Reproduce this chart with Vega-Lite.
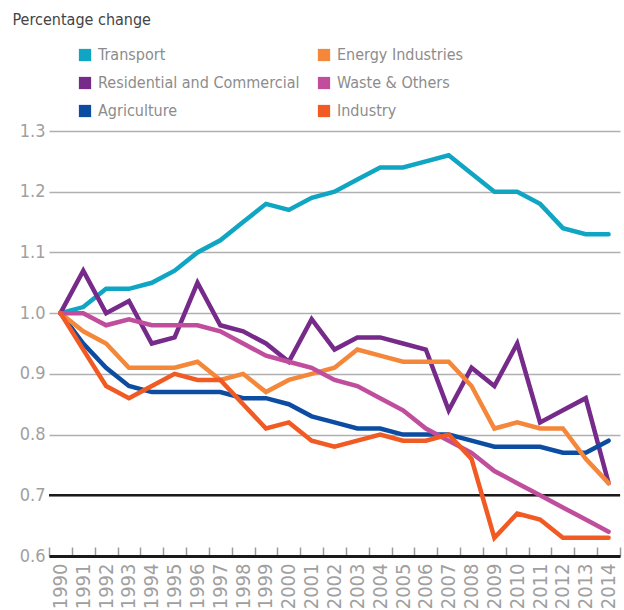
{
  "$schema": "https://vega.github.io/schema/vega-lite/v6.json",
  "width": 571,
  "height": 425,
  "autosize": "none",
  "padding": {"left": 49, "top": 131, "right": 4, "bottom": 54},
  "background": "white",
  "config": {
    "font": "DejaVu Sans Condensed, sans-serif",
    "view": {"stroke": null}
  },
  "data": {"values": [
    {"year":"1990","sector":"Transport","v":1.00},{"year":"1991","sector":"Transport","v":1.01},{"year":"1992","sector":"Transport","v":1.04},{"year":"1993","sector":"Transport","v":1.04},{"year":"1994","sector":"Transport","v":1.05},{"year":"1995","sector":"Transport","v":1.07},{"year":"1996","sector":"Transport","v":1.10},{"year":"1997","sector":"Transport","v":1.12},{"year":"1998","sector":"Transport","v":1.15},{"year":"1999","sector":"Transport","v":1.18},{"year":"2000","sector":"Transport","v":1.17},{"year":"2001","sector":"Transport","v":1.19},{"year":"2002","sector":"Transport","v":1.20},{"year":"2003","sector":"Transport","v":1.22},{"year":"2004","sector":"Transport","v":1.24},{"year":"2005","sector":"Transport","v":1.24},{"year":"2006","sector":"Transport","v":1.25},{"year":"2007","sector":"Transport","v":1.26},{"year":"2008","sector":"Transport","v":1.23},{"year":"2009","sector":"Transport","v":1.20},{"year":"2010","sector":"Transport","v":1.20},{"year":"2011","sector":"Transport","v":1.18},{"year":"2012","sector":"Transport","v":1.14},{"year":"2013","sector":"Transport","v":1.13},{"year":"2014","sector":"Transport","v":1.13},
    {"year":"1990","sector":"Residential and Commercial","v":1.00},{"year":"1991","sector":"Residential and Commercial","v":1.07},{"year":"1992","sector":"Residential and Commercial","v":1.00},{"year":"1993","sector":"Residential and Commercial","v":1.02},{"year":"1994","sector":"Residential and Commercial","v":0.95},{"year":"1995","sector":"Residential and Commercial","v":0.96},{"year":"1996","sector":"Residential and Commercial","v":1.05},{"year":"1997","sector":"Residential and Commercial","v":0.98},{"year":"1998","sector":"Residential and Commercial","v":0.97},{"year":"1999","sector":"Residential and Commercial","v":0.95},{"year":"2000","sector":"Residential and Commercial","v":0.92},{"year":"2001","sector":"Residential and Commercial","v":0.99},{"year":"2002","sector":"Residential and Commercial","v":0.94},{"year":"2003","sector":"Residential and Commercial","v":0.96},{"year":"2004","sector":"Residential and Commercial","v":0.96},{"year":"2005","sector":"Residential and Commercial","v":0.95},{"year":"2006","sector":"Residential and Commercial","v":0.94},{"year":"2007","sector":"Residential and Commercial","v":0.84},{"year":"2008","sector":"Residential and Commercial","v":0.91},{"year":"2009","sector":"Residential and Commercial","v":0.88},{"year":"2010","sector":"Residential and Commercial","v":0.95},{"year":"2011","sector":"Residential and Commercial","v":0.82},{"year":"2012","sector":"Residential and Commercial","v":0.84},{"year":"2013","sector":"Residential and Commercial","v":0.86},{"year":"2014","sector":"Residential and Commercial","v":0.72},
    {"year":"1990","sector":"Agriculture","v":1.00},{"year":"1991","sector":"Agriculture","v":0.95},{"year":"1992","sector":"Agriculture","v":0.91},{"year":"1993","sector":"Agriculture","v":0.88},{"year":"1994","sector":"Agriculture","v":0.87},{"year":"1995","sector":"Agriculture","v":0.87},{"year":"1996","sector":"Agriculture","v":0.87},{"year":"1997","sector":"Agriculture","v":0.87},{"year":"1998","sector":"Agriculture","v":0.86},{"year":"1999","sector":"Agriculture","v":0.86},{"year":"2000","sector":"Agriculture","v":0.85},{"year":"2001","sector":"Agriculture","v":0.83},{"year":"2002","sector":"Agriculture","v":0.82},{"year":"2003","sector":"Agriculture","v":0.81},{"year":"2004","sector":"Agriculture","v":0.81},{"year":"2005","sector":"Agriculture","v":0.80},{"year":"2006","sector":"Agriculture","v":0.80},{"year":"2007","sector":"Agriculture","v":0.80},{"year":"2008","sector":"Agriculture","v":0.79},{"year":"2009","sector":"Agriculture","v":0.78},{"year":"2010","sector":"Agriculture","v":0.78},{"year":"2011","sector":"Agriculture","v":0.78},{"year":"2012","sector":"Agriculture","v":0.77},{"year":"2013","sector":"Agriculture","v":0.77},{"year":"2014","sector":"Agriculture","v":0.79},
    {"year":"1990","sector":"Energy Industries","v":1.00},{"year":"1991","sector":"Energy Industries","v":0.97},{"year":"1992","sector":"Energy Industries","v":0.95},{"year":"1993","sector":"Energy Industries","v":0.91},{"year":"1994","sector":"Energy Industries","v":0.91},{"year":"1995","sector":"Energy Industries","v":0.91},{"year":"1996","sector":"Energy Industries","v":0.92},{"year":"1997","sector":"Energy Industries","v":0.89},{"year":"1998","sector":"Energy Industries","v":0.90},{"year":"1999","sector":"Energy Industries","v":0.87},{"year":"2000","sector":"Energy Industries","v":0.89},{"year":"2001","sector":"Energy Industries","v":0.90},{"year":"2002","sector":"Energy Industries","v":0.91},{"year":"2003","sector":"Energy Industries","v":0.94},{"year":"2004","sector":"Energy Industries","v":0.93},{"year":"2005","sector":"Energy Industries","v":0.92},{"year":"2006","sector":"Energy Industries","v":0.92},{"year":"2007","sector":"Energy Industries","v":0.92},{"year":"2008","sector":"Energy Industries","v":0.88},{"year":"2009","sector":"Energy Industries","v":0.81},{"year":"2010","sector":"Energy Industries","v":0.82},{"year":"2011","sector":"Energy Industries","v":0.81},{"year":"2012","sector":"Energy Industries","v":0.81},{"year":"2013","sector":"Energy Industries","v":0.76},{"year":"2014","sector":"Energy Industries","v":0.72},
    {"year":"1990","sector":"Waste & Others","v":1.00},{"year":"1991","sector":"Waste & Others","v":1.00},{"year":"1992","sector":"Waste & Others","v":0.98},{"year":"1993","sector":"Waste & Others","v":0.99},{"year":"1994","sector":"Waste & Others","v":0.98},{"year":"1995","sector":"Waste & Others","v":0.98},{"year":"1996","sector":"Waste & Others","v":0.98},{"year":"1997","sector":"Waste & Others","v":0.97},{"year":"1998","sector":"Waste & Others","v":0.95},{"year":"1999","sector":"Waste & Others","v":0.93},{"year":"2000","sector":"Waste & Others","v":0.92},{"year":"2001","sector":"Waste & Others","v":0.91},{"year":"2002","sector":"Waste & Others","v":0.89},{"year":"2003","sector":"Waste & Others","v":0.88},{"year":"2004","sector":"Waste & Others","v":0.86},{"year":"2005","sector":"Waste & Others","v":0.84},{"year":"2006","sector":"Waste & Others","v":0.81},{"year":"2007","sector":"Waste & Others","v":0.79},{"year":"2008","sector":"Waste & Others","v":0.77},{"year":"2009","sector":"Waste & Others","v":0.74},{"year":"2010","sector":"Waste & Others","v":0.72},{"year":"2011","sector":"Waste & Others","v":0.70},{"year":"2012","sector":"Waste & Others","v":0.68},{"year":"2013","sector":"Waste & Others","v":0.66},{"year":"2014","sector":"Waste & Others","v":0.64},
    {"year":"1990","sector":"Industry","v":1.00},{"year":"1991","sector":"Industry","v":0.94},{"year":"1992","sector":"Industry","v":0.88},{"year":"1993","sector":"Industry","v":0.86},{"year":"1994","sector":"Industry","v":0.88},{"year":"1995","sector":"Industry","v":0.90},{"year":"1996","sector":"Industry","v":0.89},{"year":"1997","sector":"Industry","v":0.89},{"year":"1998","sector":"Industry","v":0.85},{"year":"1999","sector":"Industry","v":0.81},{"year":"2000","sector":"Industry","v":0.82},{"year":"2001","sector":"Industry","v":0.79},{"year":"2002","sector":"Industry","v":0.78},{"year":"2003","sector":"Industry","v":0.79},{"year":"2004","sector":"Industry","v":0.80},{"year":"2005","sector":"Industry","v":0.79},{"year":"2006","sector":"Industry","v":0.79},{"year":"2007","sector":"Industry","v":0.80},{"year":"2008","sector":"Industry","v":0.76},{"year":"2009","sector":"Industry","v":0.63},{"year":"2010","sector":"Industry","v":0.67},{"year":"2011","sector":"Industry","v":0.66},{"year":"2012","sector":"Industry","v":0.63},{"year":"2013","sector":"Industry","v":0.63},{"year":"2014","sector":"Industry","v":0.63}
  ]},
  "layer": [
    {
      "mark": {"type": "rule", "color": "#1a1a1a", "strokeWidth": 2.5},
      "data": {"values": [{"ref": 0.7}]},
      "encoding": {"y": {"field": "ref", "type": "quantitative"}}
    },
    {
      "mark": {"type": "line", "strokeWidth": 4.5, "strokeJoin": "miter", "strokeCap": "round"},
      "encoding": {
        "x": {
          "field": "year", "type": "ordinal",
          "scale": {"type": "band", "paddingInner": 0, "paddingOuter": 0},
          "axis": {
            "title": null, "labelAngle": -90, "labelAlign": "right", "labelBaseline": "middle",
            "labelFontSize": 20, "labelColor": "#a0a0a0", "labelPadding": 16,
            "tickBand": "extent", "tickSize": -9, "tickColor": "#9a9a9a", "tickWidth": 1.5,
            "domainColor": "#1a1a1a", "domainWidth": 3, "grid": false
          }
        },
        "y": {
          "field": "v", "type": "quantitative",
          "scale": {"domain": [0.6, 1.3], "nice": false, "zero": false},
          "axis": {
            "values": [0.6, 0.7, 0.8, 0.9, 1.0, 1.1, 1.2, 1.3],
            "format": ".1f", "domain": false, "ticks": false,
            "labelFontSize": 18, "labelColor": "#a0a0a0", "labelPadding": 4,
            "grid": true, "gridColor": "#b0b0b0", "gridWidth": 1.5,
            "title": "Percentage change", "titleAngle": 0, "titleAlign": "left",
            "titleBaseline": "alphabetic", "titleX": -37, "titleY": -107,
            "titleFontSize": 16, "titleFontWeight": "normal", "titleColor": "#444444"
          }
        },
        "color": {
          "field": "sector", "type": "nominal",
          "scale": {
            "domain": ["Transport", "Residential and Commercial", "Agriculture", "Energy Industries", "Waste & Others", "Industry"],
            "range": ["#10a6c3", "#762a8a", "#0d4da1", "#f5873a", "#c04e9d", "#f15a23"]
          },
          "legend": {
            "title": null, "orient": "none", "legendX": 28, "legendY": -84,
            "columns": 2, "columnPadding": 16, "rowPadding": 12,
            "symbolType": "square", "symbolSize": 150, "symbolStrokeWidth": 0,
            "labelFontSize": 16, "labelColor": "#8c8c8c", "labelOffset": 5, "labelLimit": 300,
            "encode": {"symbols": {"update": {"fill": {"scale": "color", "field": "value"}, "fillOpacity": {"value": 1}, "strokeWidth": {"value": 0}}}}
          }
        }
      }
    }
  ]
}
